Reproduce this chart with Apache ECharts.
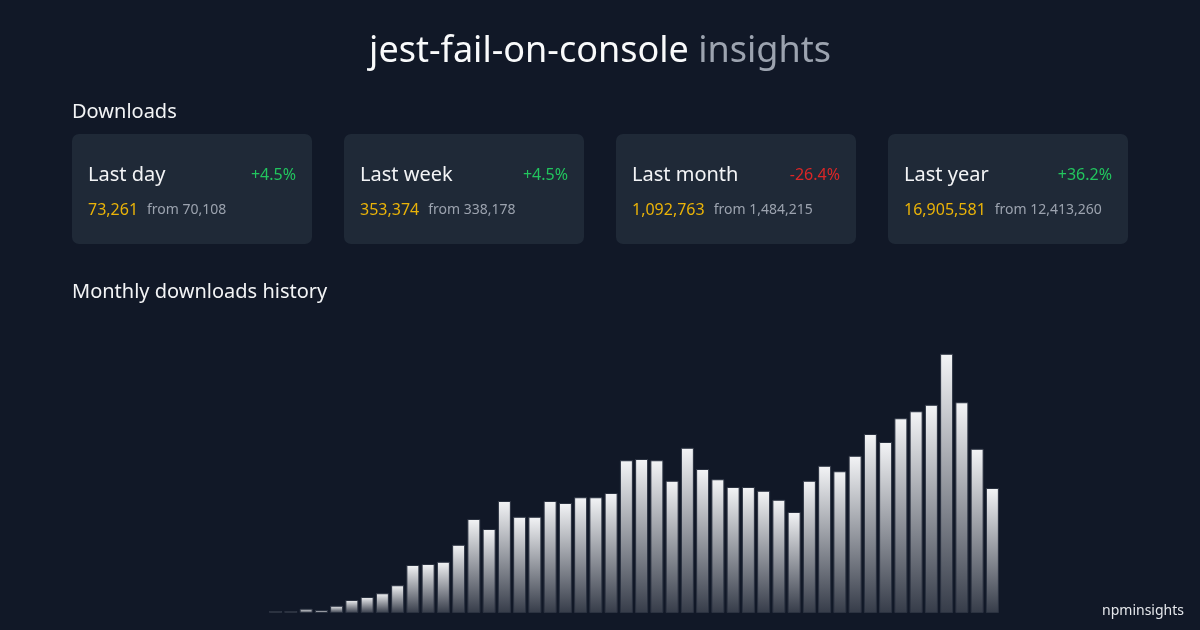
<!DOCTYPE html>
<html>
<head>
<meta charset="utf-8">
<script src="https://cdn.jsdelivr.net/npm/echarts@6/dist/echarts.min.js"></script>
<style>
  html, body { margin: 0; padding: 0; background: #111827; }
  #chart { width: 1200px; height: 630px; }
</style>
</head>
<body>
<div id="chart"></div>
<script>
// ---- data ----
const packageName = 'jest-fail-on-console';
const months = [
  '2021-07','2021-08','2021-09','2021-10','2021-11','2021-12',
  '2022-01','2022-02','2022-03','2022-04','2022-05','2022-06',
  '2022-07','2022-08','2022-09','2022-10','2022-11','2022-12',
  '2023-01','2023-02','2023-03','2023-04','2023-05','2023-06',
  '2023-07','2023-08','2023-09','2023-10','2023-11','2023-12',
  '2024-01','2024-02','2024-03','2024-04','2024-05','2024-06',
  '2024-07','2024-08','2024-09','2024-10','2024-11','2024-12',
  '2025-01','2025-02','2025-03','2025-04','2025-05','2025-06'
];
const monthlyDownloads = [
  16000, 16000, 34000, 24000, 58000, 104000,
  128000, 158000, 222000, 384000, 392000, 410000,
  546000, 752000, 672000, 896000, 770000, 770000,
  896000, 880000, 926000, 926000, 960000, 1222000,
  1232000, 1222000, 1058000, 1322000, 1152000, 1070000,
  1008000, 1008000, 978000, 906000, 808000, 1058000,
  1178000, 1134000, 1258000, 1432000, 1368000, 1558000,
  1614000, 1666000, 2074000, 1686000, 1314000, 1000000
];
const cardLabels = ['Last day', 'Last week', 'Last month', 'Last year'];
const cardValues = ['73,261', '353,374', '1,092,763', '16,905,581'];
const cardPrevious = ['70,108', '338,178', '1,484,215', '12,413,260'];
const cardChanges = ['+4.5%', '+4.5%', '-26.4%', '+36.2%'];

// ---- chart ----
const FONT = '"Noto Sans", "Open Sans", sans-serif';
const chart = echarts.init(document.getElementById('chart'), null, { renderer: 'canvas' });

const graphics = [];
graphics.push({
  type: 'text', x: 600, y: 52,
  style: {
    text: '{a|' + packageName + '}{b| insights}',
    align: 'center', verticalAlign: 'middle',
    rich: {
      a: { fill: '#f9fafb', fontSize: 36, fontFamily: FONT },
      b: { fill: '#9ca3af', fontSize: 36, fontFamily: FONT }
    }
  }
});
graphics.push({ type: 'text', x: 72, y: 112, style: { text: 'Downloads', fill: '#f3f4f6', fontSize: 20, fontFamily: FONT, verticalAlign: 'middle' } });
graphics.push({ type: 'text', x: 72, y: 292, style: { text: 'Monthly downloads history', fill: '#f3f4f6', fontSize: 20, fontFamily: FONT, verticalAlign: 'middle' } });
graphics.push({ type: 'text', x: 1184, y: 611, style: { text: 'npminsights', fill: '#e5e7eb', fontSize: 14, fontFamily: FONT, align: 'right', verticalAlign: 'middle' } });

cardLabels.forEach((label, i) => {
  const x0 = 72 + i * 272;
  graphics.push({ type: 'rect', shape: { x: x0, y: 134, width: 240, height: 110, r: 7 }, style: { fill: '#1f2937' } });
  graphics.push({ type: 'text', x: x0 + 16, y: 175, style: { text: label, fill: '#f3f4f6', fontSize: 20, fontFamily: FONT, verticalAlign: 'middle' } });
  const neg = cardChanges[i].charAt(0) === '-';
  graphics.push({ type: 'text', x: x0 + 224, y: 175, style: { text: cardChanges[i], fill: neg ? '#dc2626' : '#22c55e', fontSize: 16, fontFamily: FONT, align: 'right', verticalAlign: 'middle' } });
  graphics.push({
    type: 'text', x: x0 + 16, y: 210,
    style: {
      text: '{a|' + cardValues[i] + '}{b|from ' + cardPrevious[i] + '}',
      verticalAlign: 'middle',
      rich: {
        a: { fill: '#eab308', fontSize: 16, fontFamily: FONT, padding: [0, 9, 0, 0] },
        b: { fill: '#9ca3af', fontSize: 14, fontFamily: FONT }
      }
    }
  });
});

chart.setOption({
  backgroundColor: '#111827',
  animation: false,
  grid: { left: 268, width: 732, top: 313, height: 300 },
  xAxis: {
    type: 'category', data: months,
    axisLine: { show: false }, axisTick: { show: false }, axisLabel: { show: false }, splitLine: { show: false }
  },
  yAxis: {
    type: 'value', min: 0, max: 2400000,
    axisLine: { show: false }, axisTick: { show: false }, axisLabel: { show: false }, splitLine: { show: false }
  },
  series: [{
    type: 'bar',
    data: monthlyDownloads,
    barWidth: 13,
    itemStyle: {
      color: new echarts.graphic.LinearGradient(0, 0, 0, 1, [
        { offset: 0, color: '#f3f4f6' },
        { offset: 1, color: '#363c49' }
      ]),
      borderColor: '#2b3240',
      borderWidth: 1
    }
  }],
  graphic: graphics
});
</script>
</body>
</html>
